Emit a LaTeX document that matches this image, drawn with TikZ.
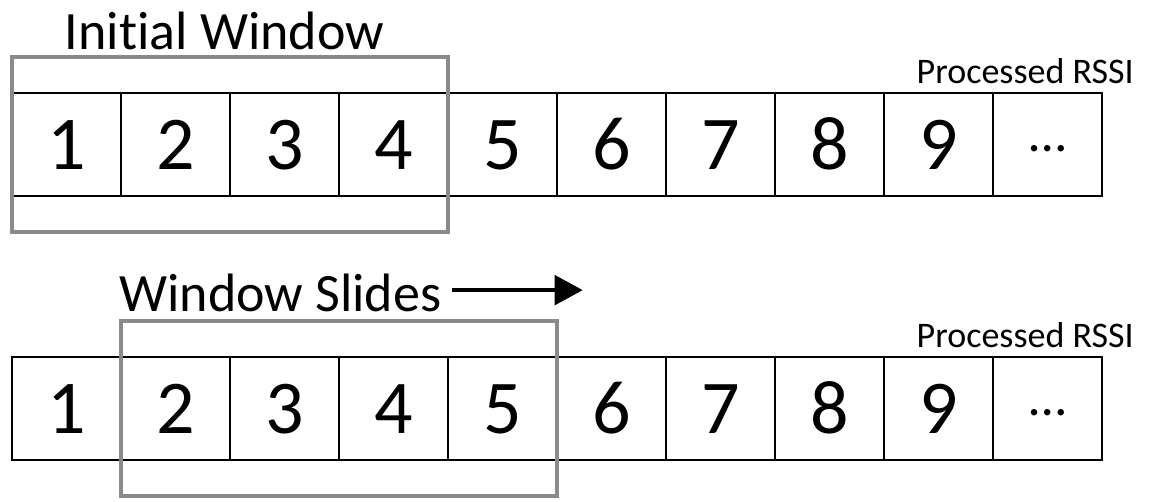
\documentclass[tikz,border=0pt]{standalone}
\usepackage{fontspec}
\setmainfont{Carlito}[Ligatures=NoCommon]
\usetikzlibrary{positioning,fit,arrows.meta}
\definecolor{wingray}{RGB}{138,138,138}
\tikzset{
    cell/.style={draw, line width=1.1pt, minimum width=81.75pt, minimum height=77.25pt,
        inner sep=0pt, outer sep=0pt, font=\fontsize{57}{60}\selectfont,
        text height=38pt, text depth=0pt},
    more/.style={cell, font=\fontsize{40}{40}\selectfont, text height=10.5pt},
    window/.style={draw=wingray, line width=3pt, inner xsep=0pt, inner ysep=27pt},
    caption/.style={inner sep=0pt, font=\fontsize{40.5}{44}\selectfont},
    rowname/.style={inner sep=0pt, font=\fontsize{27}{30}\selectfont},
    slide/.style={line width=3pt, -{Triangle[length=21pt, width=22pt]}}
}
\begin{document}
\begin{tikzpicture}[x=0.75pt, y=-0.75pt]
    \useasboundingbox (0,0) rectangle (1153,502);
    % first row
    \node[cell] (a1) at (66.5,144.5) {1};
    \foreach \n [remember=\n as \p (initially 1)] in {2,...,9}
        \node[cell, right=0pt of a\p] (a\n) {\n};
    \node[more, right=0pt of a9] (a10) {…};
    % second row
    \node[cell] (b1) at (66.5,408.5) {1};
    \foreach \n [remember=\n as \p (initially 1)] in {2,...,9}
        \node[cell, right=0pt of b\p] (b\n) {\n};
    \node[more, right=0pt of b9] (b10) {…};
    \node[rowname, anchor=south east] (rssia) at ([shift={(32,-9)}]a10.north east) {Processed RSSI};
    \node[rowname, anchor=south east] (rssib) at ([shift={(32,-9)}]b10.north east) {Processed RSSI};
    % windows
    \node[window, fit=(a1)(a4)] (win1) {};
    \node[window, fit=(b2)(b5)] (win2) {};
    \node[caption, above=4pt of win1, xshift=-4pt] (initial) {Initial Window};
    \node[caption, above right=5pt and 0pt of win2.north west] (slides) {Window Slides};
    \coordinate (tip) at ([shift={(141,-3)}]slides.east);
    \draw[slide, shorten <=7.5pt] ([yshift=2.25pt]slides.east) -- (tip);
\end{tikzpicture}
\end{document}
